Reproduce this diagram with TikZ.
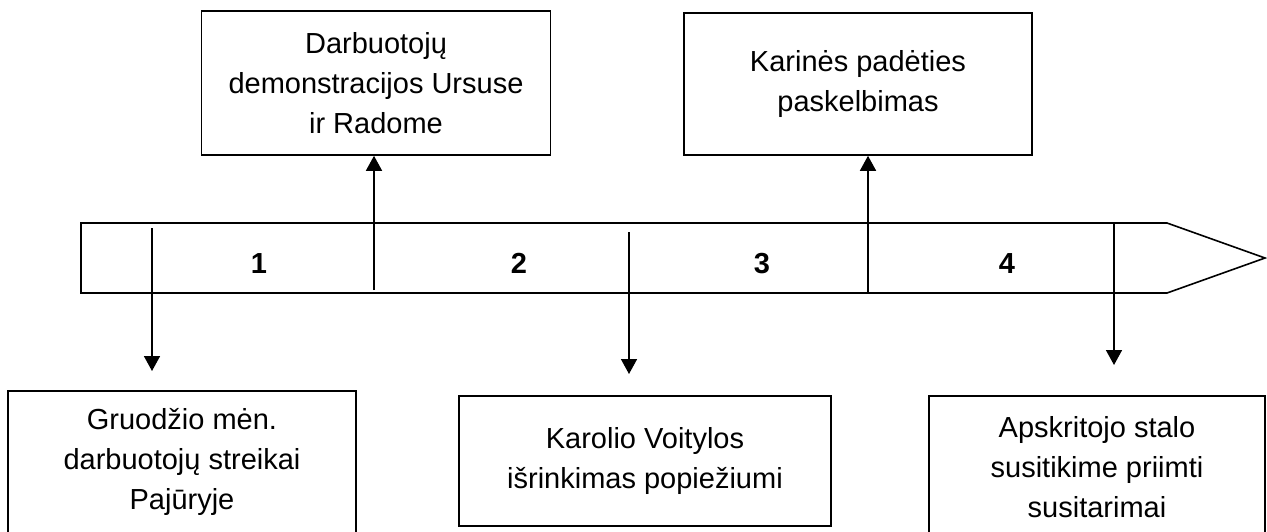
\documentclass[tikz,border=0pt]{standalone}
\usepackage{fontspec}
\setmainfont{Liberation Sans}
\usetikzlibrary{arrows.meta}
\begin{document}
\begin{tikzpicture}[x=1pt,y=-1pt,line width=1.6pt,
  evbox/.style={draw, align=center, inner sep=0pt, font=\fontsize{29}{40}\selectfont},
  num/.style={font=\fontsize{29}{29}\selectfont\bfseries, inner sep=0pt, anchor=base},
  arr/.style={-{Triangle[width=16pt,length=15pt]}, line width=1.6pt}]
\useasboundingbox (0,0) rectangle (1267,531);
\clip (0,0) rectangle (1267,531);
% timeline bar
\draw (81,223) -- (1167,223) -- (1265,258) -- (1167,293) -- (81,293) -- cycle;
% period numbers
\node[num] (n1) at (259,273) {1};
\node[num] (n2) at (519,273) {2};
\node[num] (n3) at (762,273) {3};
\node[num] (n4) at (1007,273) {4};
% event boxes
\node[evbox, minimum width=349pt, minimum height=144pt] (d) at (376,83) {Darbuotojų\\demonstracijos Ursuse\\ir Radome};
\node[evbox, minimum width=348pt, minimum height=142pt] (k) at (858,84) {Karinės padėties\\paskelbimas};
\node[evbox, minimum width=348pt, minimum height=142pt] (g) at (182,462) {Gruodžio mėn.\\darbuotojų streikai\\Pajūryje};
\node[evbox, minimum width=372pt, minimum height=130pt] (v) at (645,461) {Karolio Voitylos\\išrinkimas popiežiumi};
\node[evbox, minimum width=336pt, minimum height=142pt] (s) at (1097,467) {Apskritojo stalo\\susitikime priimti\\susitarimai};
% connectors
\coordinate (a1) at (152,228); \coordinate (b1) at (152,371);
\coordinate (a2) at (374,290);
\coordinate (a3) at (629,232); \coordinate (b3) at (629,374);
\coordinate (a4) at (868,293);
\coordinate (a5) at (1114,223); \coordinate (b5) at (1114,365);
\draw[arr] (a1) -- (b1);
\draw[arr] (a2) -- (a2 |- d.south);
\draw[arr] (a3) -- (b3);
\draw[arr] (a4) -- (a4 |- k.south);
\draw[arr] (a5) -- (b5);
\end{tikzpicture}
\end{document}
